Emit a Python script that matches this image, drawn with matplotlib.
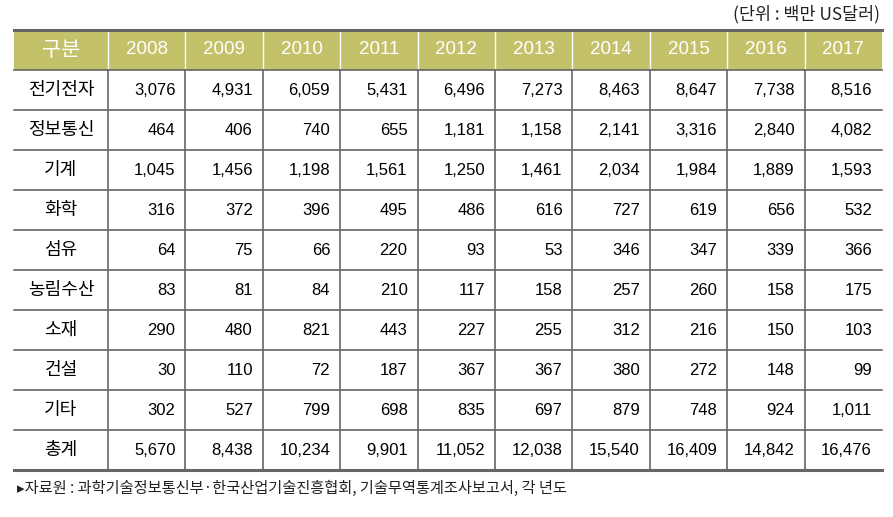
import matplotlib.pyplot as plt
from matplotlib.patches import Rectangle

plt.rcParams['font.family'] = ['Noto Sans CJK KR', 'DejaVu Sans']

years = ['2008', '2009', '2010', '2011', '2012', '2013', '2014', '2015', '2016', '2017']
sectors = ['전기전자', '정보통신', '기계', '화학', '섬유', '농림수산', '소재', '건설', '기타', '총계']
elec = [3076, 4931, 6059, 5431, 6496, 7273, 8463, 8647, 7738, 8516]
ict = [464, 406, 740, 655, 1181, 1158, 2141, 3316, 2840, 4082]
machine = [1045, 1456, 1198, 1561, 1250, 1461, 2034, 1984, 1889, 1593]
chem = [316, 372, 396, 495, 486, 616, 727, 619, 656, 532]
fiber = [64, 75, 66, 220, 93, 53, 346, 347, 339, 366]
agri = [83, 81, 84, 210, 117, 158, 257, 260, 158, 175]
material = [290, 480, 821, 443, 227, 255, 312, 216, 150, 103]
construct = [30, 110, 72, 187, 367, 367, 380, 272, 148, 99]
etc = [302, 527, 799, 698, 835, 697, 879, 748, 924, 1011]
total = [5670, 8438, 10234, 9901, 11052, 12038, 15540, 16409, 14842, 16476]
rows = [elec, ict, machine, chem, fiber, agri, material, construct, etc, total]

fig = plt.figure(figsize=(8.93, 5.17), dpi=100)
ax = fig.add_axes([0, 0, 1, 1])
ax.set_xlim(0, 893)
ax.set_ylim(517, 0)
ax.axis('off')

# table geometry in pixels
left, right = 14, 882
first_w = 94
col_w = (right - left - first_w) / len(years)
top, head_h, row_h = 30, 39.5, 40
bottom = top + head_h + row_h * len(rows)
line_c = '#666666'
head_c = '#c3c26a'

ax.add_patch(Rectangle((left, top), right - left, head_h, color=head_c, lw=0))
ax.text(left + first_w / 2, top + head_h / 2, '구분', color='white', fontsize=15,
        ha='center', va='center')
for j, y in enumerate(years):
    x0 = left + first_w + j * col_w
    ax.text(x0 + col_w / 2, top + head_h / 2, y, color='white', fontsize=13.5,
            family='Liberation Sans', ha='center', va='center')
    ax.plot([x0, x0], [top, top + head_h], color='white', lw=1)
    ax.plot([x0, x0], [top + head_h, bottom], color=line_c, lw=1.2)

for i, (name, vals) in enumerate(zip(sectors, rows)):
    yc = top + head_h + row_h * (i + 0.5)
    ax.text(left + first_w / 2, yc, name, fontsize=13, ha='center', va='center')
    for j, v in enumerate(vals):
        x1 = left + first_w + (j + 1) * col_w - 10
        ax.text(x1, yc + 1, f'{v:,}', fontsize=12, family='Liberation Sans',
                ha='right', va='center')
    if i > 0:
        ys = top + head_h + row_h * i
        ax.plot([left, right], [ys, ys], color=line_c, lw=1.2)

ax.plot([left, right], [top, top], color=line_c, lw=2.2)
ax.plot([left, right], [bottom, bottom], color=line_c, lw=2.2)
ax.plot([left, right], [top + head_h, top + head_h], color=line_c, lw=1.2)

ax.text(880, 14, '(단위 : 백만 US달러)', fontsize=12.5, ha='right', va='center', color='#222222')
ax.text(17, 488, '▸자료원 : 과학기술정보통신부·한국산업기술진흥협회, 기술무역통계조사보고서, 각 년도',
        fontsize=11, ha='left', va='center', color='#222222')

fig.savefig('out.png', dpi=100)
